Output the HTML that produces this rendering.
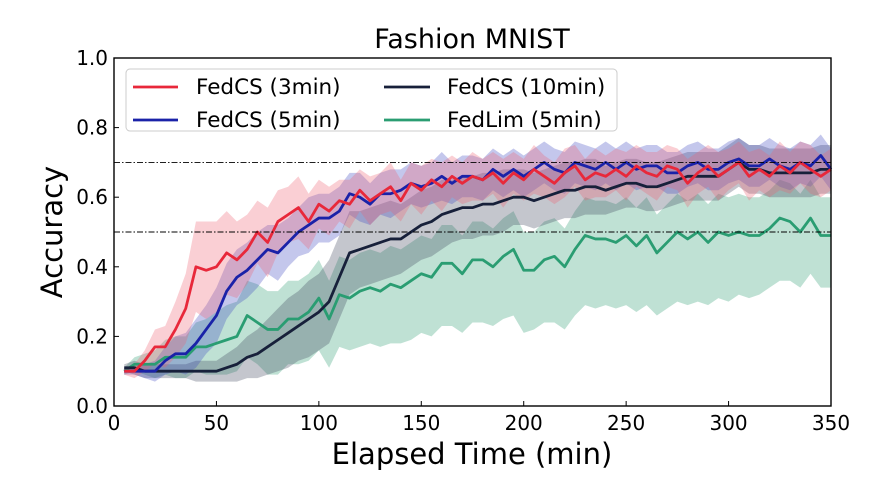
<!DOCTYPE html>
<html><head><meta charset="utf-8"><style>
body{margin:0;background:#fff;}
svg text{font-family:"DejaVu Sans","Liberation Sans",sans-serif;fill:#000;}
</style></head><body>
<svg id="chart" width="869" height="490" xmlns="http://www.w3.org/2000/svg">
<g id="bands"></g><g id="lines"></g><g id="axes"></g>
</svg>
<script>
const times = Array.from({length:70},(_, i)=>5+5*i);
const red = [0.10,0.10,0.13,0.17,0.17,0.22,0.28,0.40,0.39,0.40,0.44,0.42,0.45,0.50,0.47,0.53,0.55,0.57,0.53,0.58,0.56,0.59,0.58,0.62,0.59,0.61,0.63,0.59,0.64,0.62,0.65,0.63,0.66,0.64,0.66,0.65,0.67,0.64,0.67,0.65,0.68,0.66,0.64,0.67,0.69,0.65,0.67,0.66,0.68,0.66,0.69,0.67,0.66,0.69,0.68,0.64,0.67,0.69,0.66,0.68,0.70,0.66,0.68,0.66,0.69,0.67,0.70,0.68,0.66,0.68];
const redSpread = [0.01,0.02,0.03,0.05,0.06,0.08,0.10,0.13,0.14,0.13,0.12,0.11,0.10,0.09,0.10,0.09,0.08,0.09,0.08,0.07,0.07,0.06,0.07,0.06,0.07,0.06,0.07,0.06,0.06,0.07,0.06,0.07,0.06,0.06,0.07,0.06,0.06,0.07,0.06,0.06,0.07,0.06,0.06,0.07,0.06,0.06,0.07,0.06,0.06,0.07,0.06,0.06,0.07,0.06,0.06,0.07,0.06,0.06,0.07,0.06,0.06,0.07,0.06,0.06,0.07,0.06,0.06,0.07,0.06,0.06];
const blue = [0.10,0.10,0.10,0.10,0.13,0.15,0.15,0.18,0.22,0.26,0.33,0.37,0.39,0.42,0.45,0.44,0.47,0.50,0.52,0.54,0.54,0.56,0.61,0.60,0.58,0.61,0.61,0.62,0.64,0.63,0.64,0.66,0.64,0.66,0.66,0.65,0.68,0.66,0.68,0.66,0.68,0.70,0.68,0.67,0.70,0.69,0.68,0.70,0.68,0.70,0.68,0.69,0.69,0.67,0.67,0.69,0.70,0.68,0.68,0.70,0.71,0.69,0.69,0.71,0.69,0.68,0.70,0.69,0.72,0.68];
const blueSpread = [0.01,0.01,0.02,0.03,0.04,0.05,0.06,0.07,0.07,0.08,0.08,0.08,0.08,0.08,0.07,0.08,0.07,0.07,0.08,0.07,0.07,0.07,0.06,0.07,0.06,0.06,0.07,0.06,0.06,0.06,0.06,0.07,0.06,0.06,0.06,0.06,0.06,0.06,0.06,0.06,0.06,0.06,0.06,0.06,0.06,0.06,0.06,0.06,0.06,0.06,0.06,0.06,0.06,0.06,0.06,0.06,0.06,0.06,0.06,0.06,0.06,0.06,0.06,0.06,0.06,0.06,0.06,0.06,0.06,0.06];
const black = [0.11,0.11,0.10,0.10,0.10,0.10,0.10,0.10,0.10,0.10,0.11,0.12,0.14,0.15,0.17,0.19,0.21,0.23,0.25,0.27,0.30,0.37,0.44,0.45,0.46,0.47,0.48,0.48,0.50,0.52,0.53,0.55,0.56,0.57,0.57,0.58,0.58,0.59,0.60,0.60,0.59,0.60,0.61,0.62,0.62,0.63,0.63,0.62,0.63,0.64,0.64,0.63,0.63,0.64,0.65,0.66,0.66,0.66,0.66,0.68,0.70,0.68,0.68,0.67,0.67,0.67,0.67,0.67,0.68,0.68];
const blackSpread = [0.01,0.02,0.02,0.02,0.02,0.02,0.02,0.03,0.03,0.03,0.04,0.05,0.06,0.07,0.08,0.09,0.10,0.10,0.11,0.11,0.12,0.12,0.12,0.11,0.11,0.11,0.11,0.10,0.10,0.10,0.10,0.10,0.09,0.09,0.09,0.09,0.09,0.09,0.08,0.08,0.08,0.08,0.08,0.08,0.08,0.08,0.08,0.07,0.07,0.07,0.07,0.07,0.07,0.07,0.07,0.07,0.07,0.07,0.07,0.07,0.07,0.07,0.07,0.07,0.07,0.07,0.07,0.07,0.07,0.07];
const green = [0.10,0.12,0.12,0.12,0.14,0.14,0.14,0.17,0.17,0.18,0.19,0.20,0.26,0.24,0.22,0.22,0.25,0.25,0.27,0.31,0.25,0.32,0.31,0.33,0.34,0.33,0.35,0.34,0.36,0.38,0.37,0.41,0.41,0.38,0.42,0.42,0.40,0.43,0.45,0.39,0.39,0.42,0.43,0.40,0.45,0.49,0.48,0.48,0.47,0.49,0.46,0.49,0.44,0.47,0.50,0.48,0.50,0.47,0.50,0.49,0.50,0.49,0.49,0.51,0.54,0.53,0.50,0.54,0.49,0.49];
const greenUp = [0.01,0.02,0.03,0.04,0.05,0.06,0.06,0.07,0.08,0.09,0.10,0.10,0.10,0.11,0.11,0.11,0.11,0.11,0.11,0.11,0.11,0.11,0.11,0.11,0.11,0.11,0.11,0.11,0.11,0.11,0.11,0.11,0.11,0.11,0.11,0.11,0.11,0.11,0.11,0.11,0.11,0.11,0.11,0.11,0.11,0.11,0.11,0.11,0.11,0.11,0.11,0.11,0.11,0.11,0.11,0.11,0.11,0.11,0.11,0.11,0.11,0.11,0.11,0.11,0.11,0.11,0.11,0.11,0.11,0.11];
const greenDown = [0.01,0.02,0.03,0.04,0.05,0.06,0.06,0.07,0.08,0.09,0.10,0.10,0.12,0.12,0.13,0.13,0.13,0.13,0.14,0.15,0.14,0.15,0.15,0.16,0.16,0.16,0.17,0.16,0.17,0.17,0.17,0.18,0.18,0.17,0.18,0.18,0.17,0.18,0.19,0.18,0.17,0.18,0.19,0.18,0.19,0.20,0.20,0.19,0.19,0.20,0.19,0.20,0.18,0.19,0.20,0.19,0.20,0.18,0.19,0.19,0.18,0.18,0.17,0.17,0.18,0.17,0.16,0.16,0.15,0.15];
const xTicks = [0,50,100,150,200,250,300,350];
const yTicks = [0.0,0.2,0.4,0.6,0.8,1.0];
const refLines = [0.7,0.5];

const L=114,R=831,T=58,B=406;
const sx=t=>L+(t/350)*(R-L);
const sy=v=>B-v*(B-T);
const NS='http://www.w3.org/2000/svg';
function mk(tag,attrs,parent){const e=document.createElementNS(NS,tag);for(const k in attrs)e.setAttribute(k,attrs[k]);parent.appendChild(e);return e;}
const bands=document.getElementById('bands'),lines=document.getElementById('lines'),axes=document.getElementById('axes');
const series=[
 {name:'fedlim-5min',m:green,up:greenUp,dn:greenDown,c:'#2a9d72',fill:'#2a9d72'},
 {name:'fedcs-10min',m:black,up:blackSpread,dn:blackSpread,c:'#17203a',fill:'#3a4258'},
 {name:'fedcs-5min',m:blue,up:blueSpread,dn:blueSpread,c:'#1a22a8',fill:'#3b46c0'},
 {name:'fedcs-3min',m:red,up:redSpread,dn:redSpread,c:'#e8283a',fill:'#f06070'}
];
series.forEach(s=>{
 let top=times.map((t,i)=>sx(t)+','+sy(s.m[i]+s.up[i]));
 let bot=times.map((t,i)=>sx(t)+','+sy(s.m[i]-s.dn[i])).reverse();
 const p=mk('polygon',{points:top.concat(bot).join(' '),fill:s.fill,'fill-opacity':0.3},bands);
 
 
});
series.forEach(s=>{
 const p=mk('polyline',{points:times.map((t,i)=>sx(t)+','+sy(s.m[i])).join(' '),fill:'none',stroke:s.c,'stroke-width':2.8,'stroke-linejoin':'round'},lines);
 
 
});
refLines.forEach(v=>{
 const l=mk('line',{x1:L,x2:R,y1:sy(v),y2:sy(v),stroke:'#000','stroke-width':0.9,'stroke-dasharray':'6,2,1.5,2'},lines);
 
 
});
const f=mk('rect',{x:L,y:T,width:R-L,height:B-T,fill:'none',stroke:'#000','stroke-width':1.4},axes);


xTicks.forEach(t=>{
 mk('line',{x1:sx(t),x2:sx(t),y1:B,y2:B-5,stroke:'#000'},axes);
 const tx=mk('text',{x:sx(t),y:B+24,'text-anchor':'middle','font-size':20},axes);
 tx.textContent=t;
 
 
});
yTicks.forEach(v=>{
 mk('line',{x1:L,x2:L+5,y1:sy(v),y2:sy(v),stroke:'#000'},axes);
 const tx=mk('text',{x:L-6,y:sy(v)+7,'text-anchor':'end','font-size':20},axes);
 tx.textContent=v.toFixed(1);
 
 
});
</script>
<svg style="position:absolute;left:0;top:0" width="869" height="490" xmlns="http://www.w3.org/2000/svg">
<text x="472" y="48" text-anchor="middle" font-size="27">Fashion MNIST</text>
<text x="472" y="464" text-anchor="middle" font-size="29">Elapsed Time (min)</text>
<text transform="translate(62,232) rotate(-90)" text-anchor="middle" font-size="29">Accuracy</text>
<g>
<rect x="126" y="69" width="491" height="62" rx="4" fill="#fff" fill-opacity="0.85" stroke="#ccc"/>
<line x1="133" x2="178" y1="87" y2="87" stroke="#e8283a" stroke-width="2.8"/>
<text x="196" y="94" font-size="21.5">FedCS (3min)</text>
<line x1="133" x2="178" y1="120" y2="120" stroke="#1a22a8" stroke-width="2.8"/>
<text x="196" y="127" font-size="21.5">FedCS (5min)</text>
<line x1="384" x2="430" y1="87" y2="87" stroke="#17203a" stroke-width="2.8"/>
<text x="447" y="94" font-size="21.5">FedCS (10min)</text>
<line x1="384" x2="430" y1="120" y2="120" stroke="#2a9d72" stroke-width="2.8"/>
<text x="447" y="127" font-size="21.5">FedLim (5min)</text>
</g>
</svg>
</body></html>
